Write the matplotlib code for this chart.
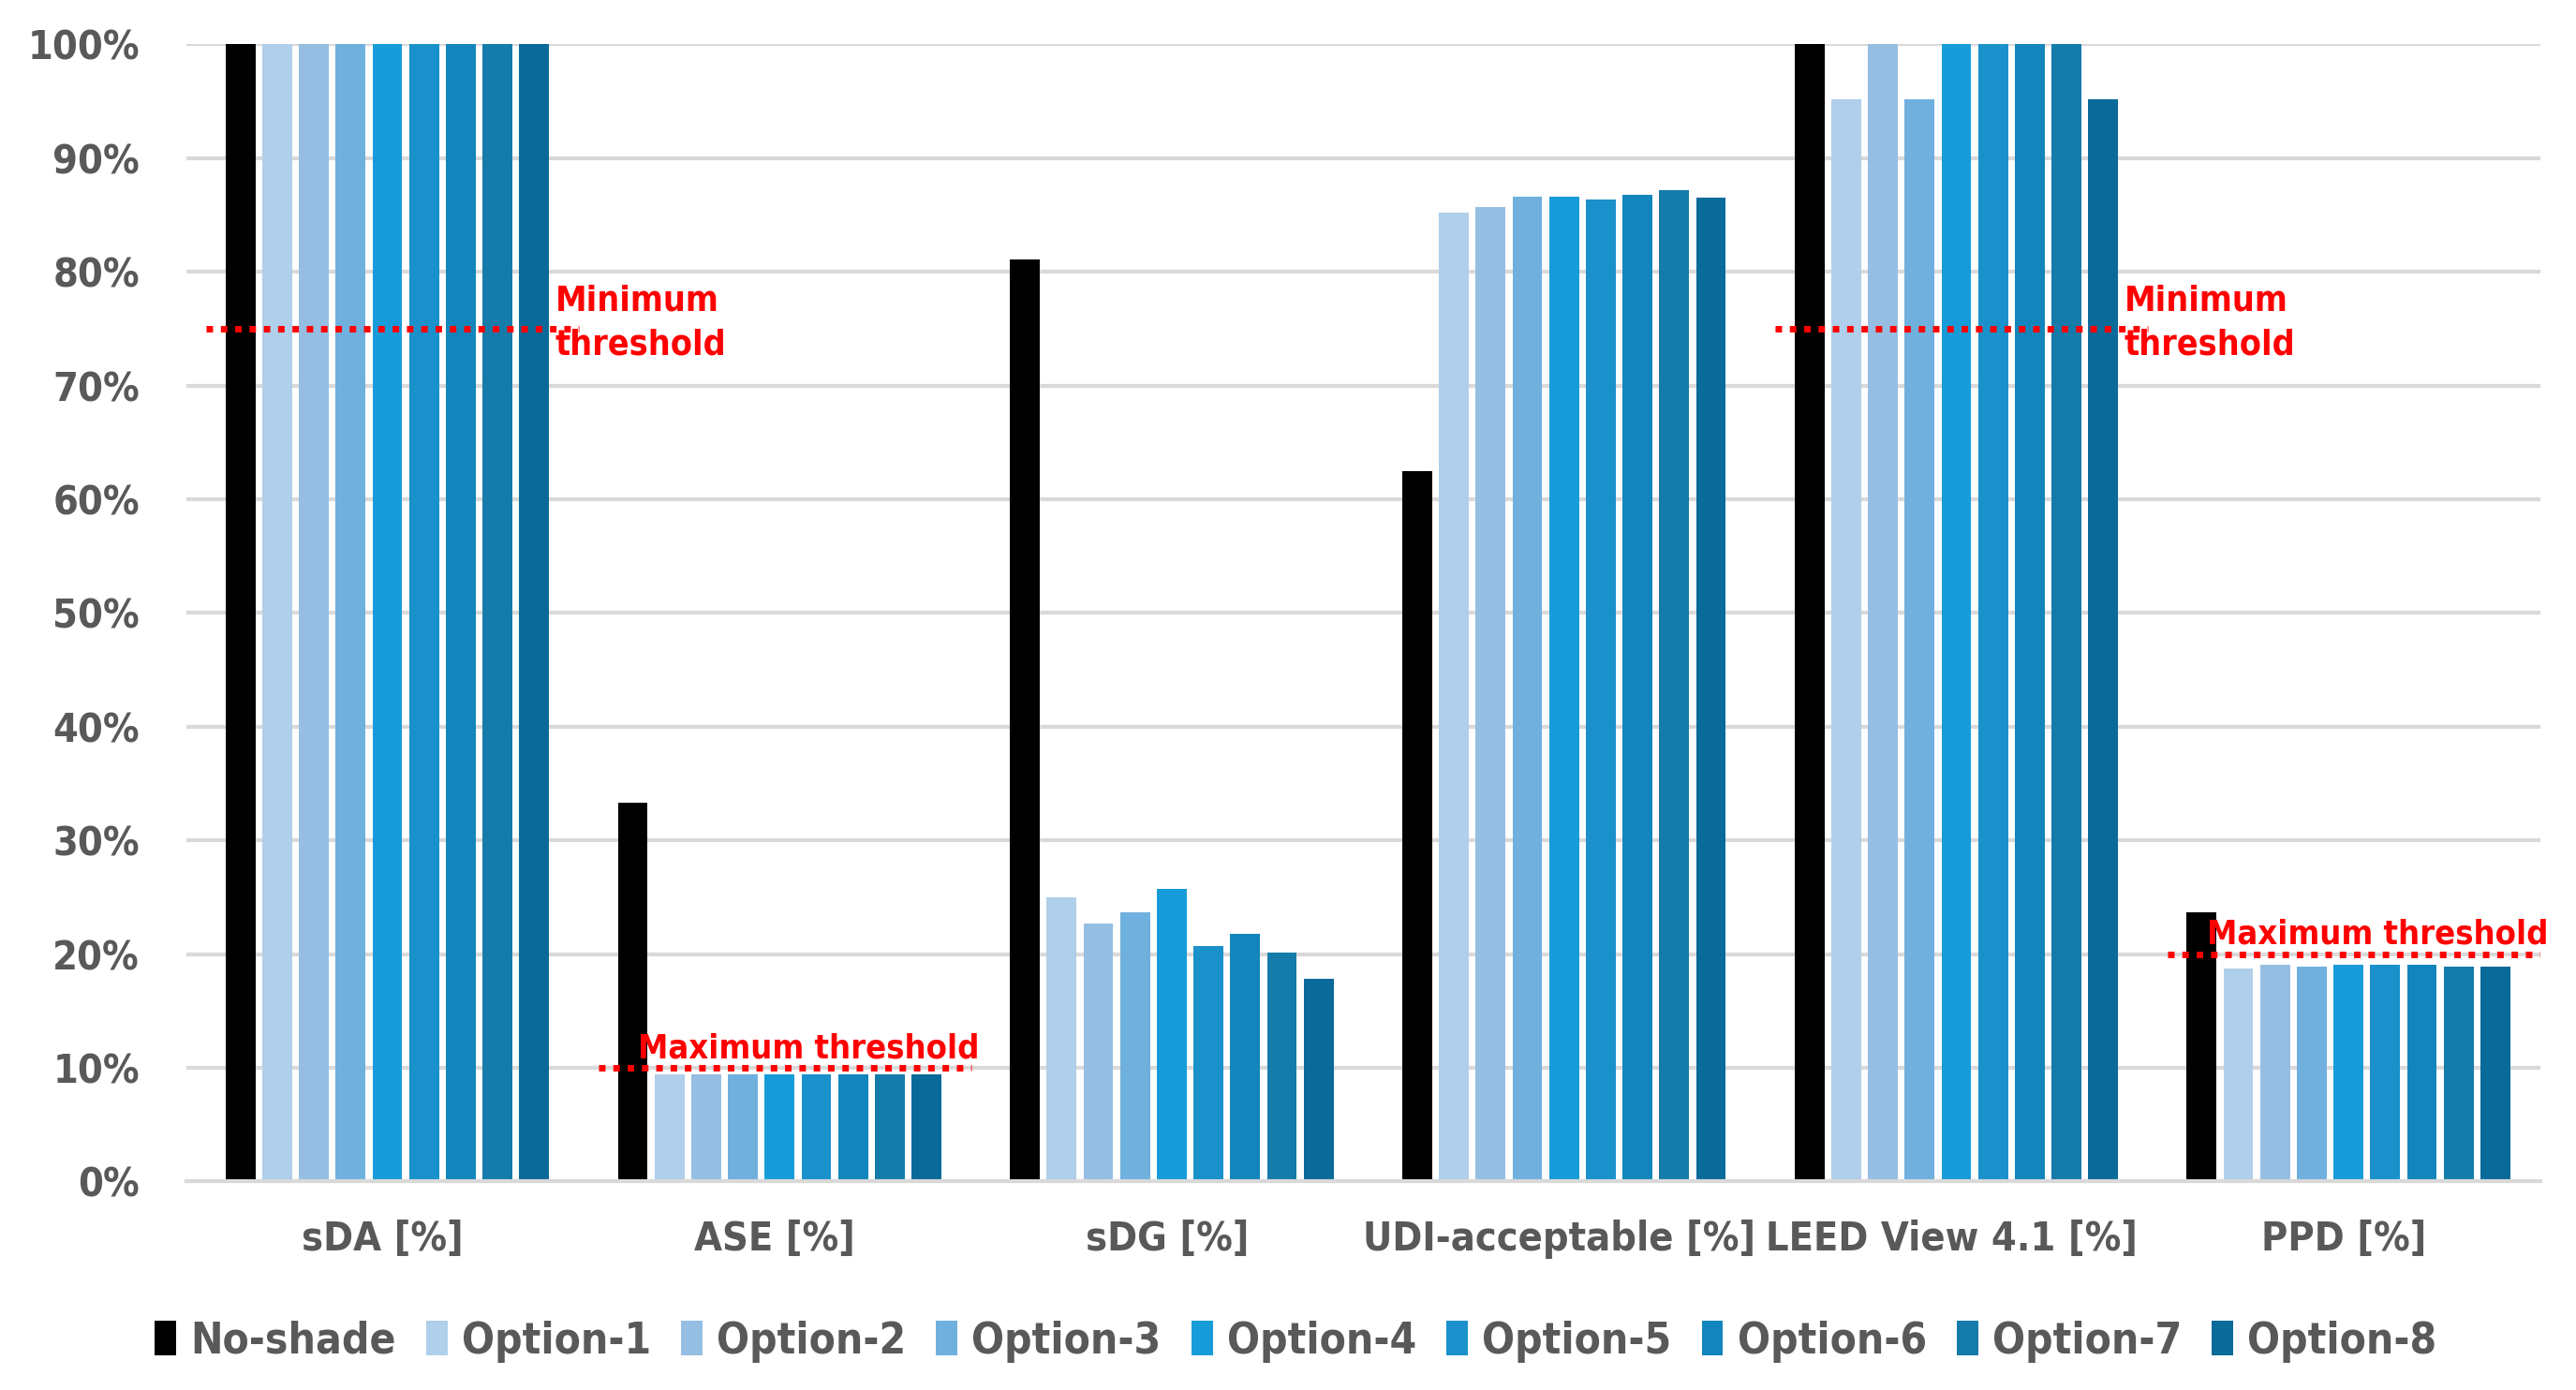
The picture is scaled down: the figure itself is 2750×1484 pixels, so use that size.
import numpy as np
import matplotlib.pyplot as plt

plt.rcParams['font.family'] = ['DejaVu Sans']
plt.rcParams['font.stretch'] = 'condensed'

categories = ['sDA [%]', 'ASE [%]', 'sDG [%]', 'UDI-acceptable [%]', 'LEED View 4.1 [%]', 'PPD [%]']
series = ['No-shade', 'Option-1', 'Option-2', 'Option-3', 'Option-4',
          'Option-5', 'Option-6', 'Option-7', 'Option-8']
colors = ['#000000', '#B0CFEA', '#96BEE3', '#6FB0DE', '#189CD9',
          '#1A91CB', '#1286BC', '#157BAA', '#0A6A99']

no_shade = [100, 33.3, 81.1, 62.5, 100, 23.7]
option_1 = [100, 9.4, 25.0, 85.2, 95.2, 18.7]
option_2 = [100, 9.4, 22.7, 85.7, 100, 19.1]
option_3 = [100, 9.4, 23.7, 86.6, 95.2, 18.9]
option_4 = [100, 9.4, 25.7, 86.6, 100, 19.1]
option_5 = [100, 9.4, 20.7, 86.4, 100, 19.1]
option_6 = [100, 9.4, 21.8, 86.8, 100, 19.1]
option_7 = [100, 9.4, 20.1, 87.2, 100, 18.9]
option_8 = [100, 9.4, 17.8, 86.5, 95.2, 18.9]
values = [no_shade, option_1, option_2, option_3, option_4,
          option_5, option_6, option_7, option_8]

# thresholds: (category index, value, label)
thr_cat = [0, 1, 4, 5]
thr_val = [75, 10, 75, 20]
thr_text = ['Minimum\nthreshold', 'Maximum threshold', 'Minimum\nthreshold', 'Maximum threshold']

grey = '#595959'
fig = plt.figure(figsize=(27.5, 14.84), dpi=100)
ax = fig.add_axes([0.0724, 0.150, 0.9136, 0.818])

x = np.arange(len(categories))
pitch = 0.0936
width = 0.076
for i, (name, vals) in enumerate(zip(series, values)):
    ax.bar(x + (i - 4) * pitch + 0.012, vals, width, color=colors[i], label=name, zorder=2)

for c, v, t in zip(thr_cat, thr_val, thr_text):
    ax.plot([c - 0.45, c + 0.5], [v, v], color='red', linestyle=(0, (1, 1.2)),
            linewidth=5, zorder=3)
    if '\n' in t:
        ax.text(c + 0.44, v + 0.5, t, color='red', fontsize=27, fontweight='bold',
                ha='left', va='center', linespacing=1.4, zorder=4)
    else:
        ax.text(c - 0.35, v + 0.3, t, color='red', fontsize=26, fontweight='bold',
                ha='left', va='bottom', zorder=4)

ax.set_xlim(-0.5, 5.5)
ax.set_ylim(0, 100)
ax.set_yticks(np.arange(0, 101, 10))
ax.set_yticklabels([f'{v}%' for v in range(0, 101, 10)])
ax.set_xticks(x)
ax.set_xticklabels(categories)
ax.tick_params(axis='both', length=0, labelsize=31, colors=grey)
ax.tick_params(axis='y', pad=36)
ax.tick_params(axis='x', pad=29)
for lab in ax.get_xticklabels() + ax.get_yticklabels():
    lab.set_fontweight('bold')
ax.grid(axis='y', color='#D9D9D9', linewidth=3, zorder=0)
for s in ['top', 'right', 'left']:
    ax.spines[s].set_visible(False)
ax.spines['bottom'].set_color('#D9D9D9')
ax.spines['bottom'].set_linewidth(3)

leg = fig.legend(loc='center', bbox_to_anchor=(0.503, 0.035), ncol=9, frameon=False,
                 fontsize=33, handlelength=0.5, handleheight=0.85, handletextpad=0.33,
                 columnspacing=0.7)
for t in leg.get_texts():
    t.set_color(grey)
    t.set_fontweight('bold')

fig.savefig('out.png', dpi=100)
